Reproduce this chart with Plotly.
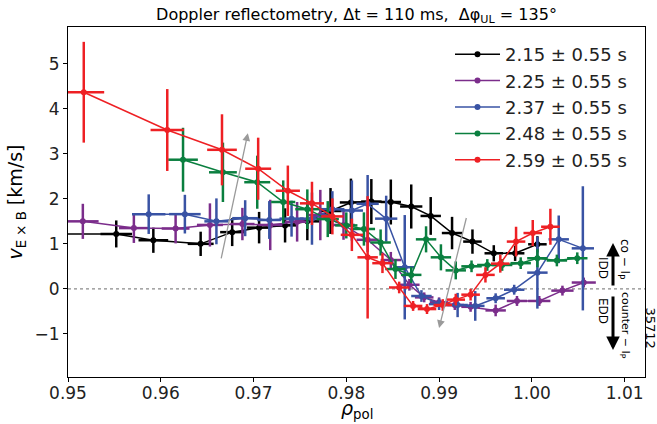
import plotly.graph_objects as go

# Radial profiles of the E x B velocity from Doppler reflectometry
labels = ["2.15 ± 0.55 s", "2.25 ± 0.55 s", "2.37 ± 0.55 s", "2.48 ± 0.55 s", "2.59 ± 0.55 s"]
colors = ["#000000", "#7B2D8B", "#3953A4", "#0A7F3F", "#EE2024"]

rho_215 = [0.9460, 0.9552, 0.9592, 0.9643, 0.9677, 0.9706, 0.9734, 0.9758, 0.9783, 0.9805,
           0.9827, 0.9848, 0.9870, 0.9891, 0.9914, 0.9936, 0.9959, 0.9982, 1.0006]
v_215 = [1.22, 1.22, 1.08, 1.00, 1.26, 1.36, 1.41, 1.50, 1.73, 1.92,
         1.94, 1.93, 1.83, 1.62, 1.24, 1.05, 0.79, 0.79, 0.99]
drho_215 = [0.0017, 0.0017, 0.0016, 0.0014, 0.0013, 0.0013, 0.0013, 0.0013, 0.0012, 0.0012,
            0.0011, 0.0011, 0.0012, 0.0011, 0.0011, 0.0010, 0.0010, 0.0010, 0.0010]
dv_215 = [0.31, 0.30, 0.28, 0.27, 0.31, 0.35, 0.38, 0.42, 0.51, 0.53,
          0.50, 0.50, 0.49, 0.42, 0.36, 0.27, 0.18, 0.17, 0.18]

rho_225 = [0.9516, 0.9571, 0.9616, 0.9653, 0.9688, 0.9718, 0.9747, 0.9772, 0.9797, 0.9823,
           0.9848, 0.9868, 0.9884, 0.9900, 0.9917, 0.9934, 0.9961, 0.9984, 1.0008, 1.0033, 1.0056]
v_225 = [1.50, 1.35, 1.34, 1.42, 1.44, 1.42, 1.49, 1.64, 1.42, 1.09,
         0.64, 0.09, -0.19, -0.30, -0.36, -0.40, -0.48, -0.27, -0.27, -0.04, 0.14]
drho_225 = [0.0017, 0.0016, 0.0015, 0.0014, 0.0013, 0.0013, 0.0013, 0.0013, 0.0012, 0.0012,
            0.0011, 0.0011, 0.0010, 0.0010, 0.0010, 0.0010, 0.0011, 0.0011, 0.0012, 0.0012, 0.0013]
dv_225 = [0.39, 0.33, 0.33, 0.48, 0.36, 0.56, 0.44, 0.56, 0.33, 0.27,
          0.18, 0.13, 0.11, 0.11, 0.11, 0.11, 0.13, 0.11, 0.11, 0.11, 0.11]

rho_237 = [0.9587, 0.9626, 0.9660, 0.9691, 0.9717, 0.9741, 0.9763, 0.9785, 0.9806, 0.9823,
           0.9843, 0.9863, 0.9881, 0.9900, 0.9920, 0.9939, 0.9961, 0.9981, 1.0006, 1.0029, 1.0055]
v_237 = [1.66, 1.66, 1.50, 1.57, 1.53, 1.56, 1.56, 1.77, 1.74, 1.89,
         1.56, 0.48, -0.16, -0.34, -0.36, -0.38, -0.21, -0.02, 0.36, 1.10, 0.90]
drho_237 = [0.0018, 0.0017, 0.0013, 0.0014, 0.0013, 0.0013, 0.0013, 0.0013, 0.0012, 0.0012,
            0.0012, 0.0011, 0.0011, 0.0011, 0.0011, 0.0010, 0.0010, 0.0011, 0.0011, 0.0011, 0.0012]
dv_237 = [0.44, 0.43, 0.51, 0.40, 0.42, 0.40, 0.58, 0.40, 0.67, 0.64,
          0.51, 1.16, 0.13, 0.13, 0.27, 0.33, 0.11, 0.11, 0.80, 0.53, 1.38]

rho_248 = [0.9624, 0.9667, 0.9704, 0.9732, 0.9758, 0.9780, 0.9800, 0.9819, 0.9837, 0.9853,
           0.9870, 0.9886, 0.9902, 0.9918, 0.9935, 0.9952, 0.9968, 0.9988, 1.0006, 1.0027, 1.0049]
v_248 = [2.87, 2.59, 2.37, 1.93, 1.77, 1.55, 1.41, 1.33, 1.03, 0.44,
         0.31, 1.10, 0.70, 0.41, 0.50, 0.53, 0.53, 0.57, 0.68, 0.63, 0.68]
drho_248 = [0.0016, 0.0015, 0.0014, 0.0013, 0.0013, 0.0012, 0.0012, 0.0012, 0.0011, 0.0011,
            0.0011, 0.0011, 0.0011, 0.0011, 0.0011, 0.0011, 0.0011, 0.0011, 0.0011, 0.0011, 0.0011]
dv_248 = [0.71, 0.66, 0.59, 0.48, 0.44, 0.40, 0.29, 0.37, 0.29, 0.22,
          0.18, 0.29, 0.29, 0.20, 0.13, 0.13, 0.13, 0.13, 0.20, 0.13, 0.13]

rho_259 = [0.9517, 0.9607, 0.9666, 0.9705, 0.9737, 0.9763, 0.9785, 0.9806, 0.9823, 0.9839,
           0.9857, 0.9872, 0.9887, 0.9904, 0.9918, 0.9934, 0.9950, 0.9966, 0.9983, 1.0001, 1.0020]
v_259 = [4.37, 3.53, 3.09, 2.67, 2.18, 1.90, 1.61, 1.20, 0.70, 0.57,
         0.03, -0.38, -0.45, -0.36, -0.24, -0.13, 0.31, 0.56, 1.05, 1.24, 1.38]
drho_259 = [0.0022, 0.0018, 0.0016, 0.0014, 0.0013, 0.0013, 0.0012, 0.0012, 0.0011, 0.0011,
            0.0011, 0.0010, 0.0010, 0.0010, 0.0010, 0.0010, 0.0010, 0.0010, 0.0010, 0.0010, 0.0010]
dv_259 = [1.12, 0.91, 0.79, 0.69, 0.56, 0.48, 0.40, 0.36, 1.36, 0.22,
          0.13, 0.11, 0.11, 0.13, 0.13, 0.13, 0.17, 0.20, 0.33, 0.29, 0.40]

x_ticks = [0.95, 0.96, 0.97, 0.98, 0.99, 1.00, 1.01]
y_ticks = [-1, 0, 1, 2, 3, 4, 5]

profiles = [
    (rho_215, v_215, drho_215, dv_215),
    (rho_225, v_225, drho_225, dv_225),
    (rho_237, v_237, drho_237, dv_237),
    (rho_248, v_248, drho_248, dv_248),
    (rho_259, v_259, drho_259, dv_259),
]

FONT = "DejaVu Sans"
W, H = 657, 424
ML, MR, MT, MB = 68, 12, 27, 47
PW, PH = W - ML - MR, H - MT - MB


def px(xp):
    """figure pixel column -> paper x"""
    return (xp - ML) / PW


def py(yp):
    """figure pixel row -> paper y"""
    return (H - MB - yp) / PH


fig = go.Figure()
for label, color, (x, y, xe, ye) in zip(labels, colors, profiles):
    fig.add_trace(go.Scatter(
        x=x, y=y, mode="lines+markers", name=label,
        line=dict(color=color, width=1.5),
        marker=dict(color=color, size=6),
        error_x=dict(type="data", array=xe, color=color, thickness=2.5, width=0),
        error_y=dict(type="data", array=ye, color=color, thickness=2.5, width=0),
    ))

# dotted zero line
fig.add_shape(type="line", xref="paper", x0=0, x1=1, yref="y", y0=0, y1=0,
              line=dict(color="#8a8a8a", width=1.3, dash="dot"), layer="below")


def vtext(xp, yp, text, size):
    """vertical (top-to-bottom) label centred on a figure pixel position"""
    return dict(x=px(xp), y=py(yp), xref="paper", yref="paper", text=text, textangle=90,
                xanchor="center", yanchor="middle", showarrow=False,
                font=dict(family=FONT, size=size, color="black"))


annotations = [
    # gray trend arrows
    dict(x=0.96939, y=3.46, ax=0.96648, ay=0.644, xref="x", yref="y", axref="x", ayref="y",
         showarrow=True, arrowhead=2, arrowsize=1.2, arrowwidth=1.3, arrowcolor="#9a9a9a", text=""),
    dict(x=0.9900, y=-0.873, ax=0.99298, ay=1.607, xref="x", yref="y", axref="x", ayref="y",
         showarrow=True, arrowhead=2, arrowsize=1.2, arrowwidth=1.3, arrowcolor="#9a9a9a", text=""),
    # co-/counter-current direction arrows
    dict(x=px(613), y=py(243), xref="paper", yref="paper", ax=0, ay=44, showarrow=True,
         arrowhead=2, arrowsize=0.9, arrowwidth=3, arrowcolor="black", text=""),
    dict(x=px(613), y=py(350), xref="paper", yref="paper", ax=0, ay=-55, showarrow=True,
         arrowhead=2, arrowsize=0.9, arrowwidth=3, arrowcolor="black", text=""),
    vtext(624, 259, "co − I<sub>P</sub>", 12),
    vtext(603, 268, "IDD", 12),
    vtext(603, 311, "EDD", 12),
    vtext(625, 325, "counter − I<sub>P</sub>", 11),
    # shot number
    vtext(650.5, 328, "35712", 13),
    # x-axis label
    dict(x=0.5, y=py(423), xref="paper", yref="paper", xanchor="center", yanchor="bottom",
         text="<i>ρ</i><sub>pol</sub>", showarrow=False, borderpad=0,
         font=dict(family=FONT, size=19, color="black")),
]

fig.update_layout(
    width=W, height=H,
    margin=dict(l=ML, r=MR, t=MT, b=MB),
    paper_bgcolor="white", plot_bgcolor="white",
    font=dict(family=FONT, color="black"),
    title=dict(text="Doppler reflectometry, Δt = 110 ms,\u00a0\u00a0Δφ<sub>UL</sub> = 135°",
               x=0.5, xref="paper", y=1 - 14 / H, yref="container", yanchor="middle",
               font=dict(family=FONT, size=16, color="black")),
    showlegend=True,
    legend=dict(x=px(450), y=py(36), xanchor="left", yanchor="top", bgcolor="rgba(0,0,0,0)",
                itemwidth=45, font=dict(family=FONT, size=18, color="#222")),
    annotations=annotations,
)

fig.update_xaxes(range=[0.95, 1.0122], tickvals=x_ticks, tickformat=".2f", automargin=False,
                 showline=True, mirror=True, linecolor="black", linewidth=1,
                 ticks="outside", ticklen=4, tickcolor="black", showgrid=False, zeroline=False,
                 ticklabelstandoff=-3,
                 tickfont=dict(family=FONT, size=17, color="#222"))
fig.update_yaxes(range=[-1.96, 5.82], tickvals=y_ticks, automargin=False,
                 showline=True, mirror=True, linecolor="black", linewidth=1,
                 ticks="outside", ticklen=4, tickcolor="black", showgrid=False, zeroline=False,
                 tickfont=dict(family=FONT, size=17, color="#222"),
                 title=dict(text="<i>v</i><sub>E × B</sub> [km/s]", font=dict(family=FONT, size=19), standoff=6))

fig.write_html("out.html")
